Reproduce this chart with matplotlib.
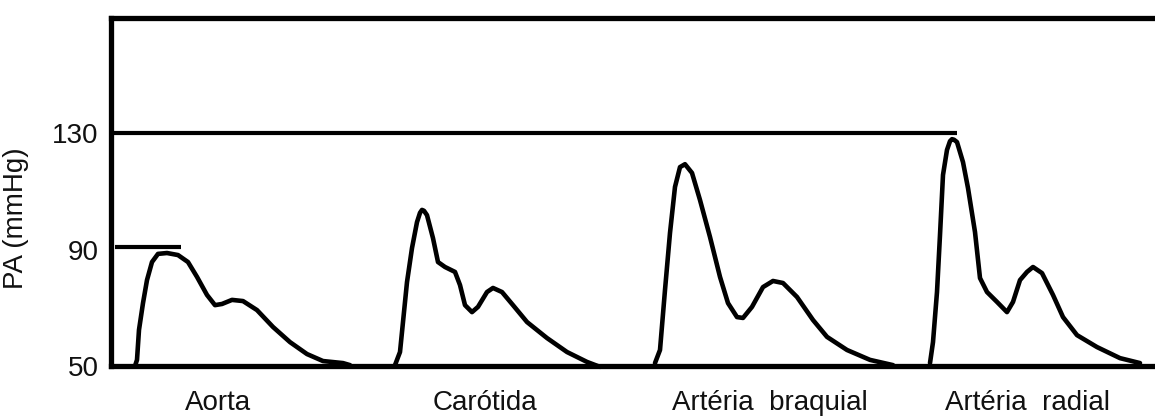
import matplotlib
matplotlib.use("Agg")
import matplotlib.pyplot as plt

plt.rcParams['font.family'] = ['Liberation Sans', 'DejaVu Sans']

# pressure pulse waves (x = time units along the strip, y = mmHg)
aorta_t = [24, 26, 28, 32, 36, 41, 47, 56, 67, 77, 86, 96, 104, 111, 121, 132,
           146, 162, 179, 196, 212, 232, 239]
aorta_p = [50.0, 52.1, 62.4, 71.6, 79.5, 85.7, 88.5, 88.8, 88.1, 85.7, 80.6,
           74.4, 70.9, 71.3, 72.7, 72.3, 69.2, 63.4, 58.2, 54.1, 51.7, 51.0, 50.3]

carotida_t = [284, 289, 292, 296, 301, 306, 309, 311, 313, 316, 322, 327, 334,
              344, 349, 354, 361, 367, 376, 382, 391, 402, 416, 436, 456, 476, 489]
carotida_p = [50.3, 54.8, 65.1, 78.8, 90.5, 99.4, 102.6, 103.6, 103.3, 101.8,
              93.9, 85.7, 84.0, 82.3, 77.8, 70.9, 68.5, 70.3, 75.4, 76.8, 75.4,
              70.9, 65.1, 59.6, 54.8, 51.4, 49.7]

braquial_t = [544, 549, 554, 559, 564, 569, 574, 581, 589, 599, 609, 617, 626,
              632, 641, 652, 662, 672, 686, 702, 716, 736, 759, 782]
braquial_p = [51.0, 55.5, 76.1, 95.7, 111.5, 118.3, 119.3, 116.3, 107.0, 94.3,
              80.6, 71.6, 66.8, 66.5, 70.3, 77.1, 79.2, 78.5, 73.7, 65.8, 60.0,
              55.5, 52.1, 50.3]

radial_t = [819, 822, 826, 829, 832, 836, 839, 841, 843, 846, 852, 857, 864,
            869, 876, 886, 896, 902, 909, 916, 922, 931, 942, 952, 966, 986,
            1009, 1029]
radial_p = [51.0, 58.2, 75.4, 95.0, 115.6, 124.2, 127.2, 127.9, 127.7, 126.9,
            120.0, 111.1, 96.0, 80.2, 75.4, 72.0, 68.5, 72.0, 79.5, 82.3, 84.0,
            81.9, 74.4, 66.8, 60.6, 56.5, 52.7, 51.0]

# reference levels
aorta_max = 91
radial_max = 130
aorta_max_span = [4, 70]
radial_max_span = [2, 846]

label_pos = [107, 374, 659, 917]
labels = ["Aorta", "Carótida", "Artéria  braquial", "Artéria  radial"]
yticks = [50, 90, 130]

fig = plt.figure(figsize=(11.55, 4.19), dpi=100)
ax = fig.add_axes([0.0961, 0.1265, 0.9039, 0.8305])

lw = 3.3
for t, p in [(aorta_t, aorta_p), (carotida_t, carotida_p),
             (braquial_t, braquial_p), (radial_t, radial_p)]:
    ax.plot(t, p, color='black', lw=lw, solid_joinstyle='round',
            solid_capstyle='round', clip_on=False)

ax.plot(aorta_max_span, [aorta_max, aorta_max], color='black', lw=3.0,
        solid_capstyle='butt')
ax.plot(radial_max_span, [radial_max, radial_max], color='black', lw=3.0,
        solid_capstyle='butt')

ax.set_xlim(0, 1044)
ax.set_ylim(50, 169.5)

ax.spines['right'].set_visible(False)
for s in ['left', 'top', 'bottom']:
    ax.spines[s].set_linewidth(3.8)
    ax.spines[s].set_zorder(3)

ax.set_yticks(yticks)
ax.set_yticklabels([str(v) for v in yticks])
ax.set_xticks(label_pos)
ax.set_xticklabels(labels, va='baseline')
ax.tick_params(axis='y', length=0, pad=9, labelsize=20, labelcolor='#111111')
ax.tick_params(axis='x', length=0, pad=32, labelsize=20, labelcolor='#111111')

ax.set_ylabel("PA (mmHg)", fontsize=20, color='#111111')
ax.yaxis.set_label_coords(-0.079, 0.425)

fig.savefig("out.png", dpi=100)
